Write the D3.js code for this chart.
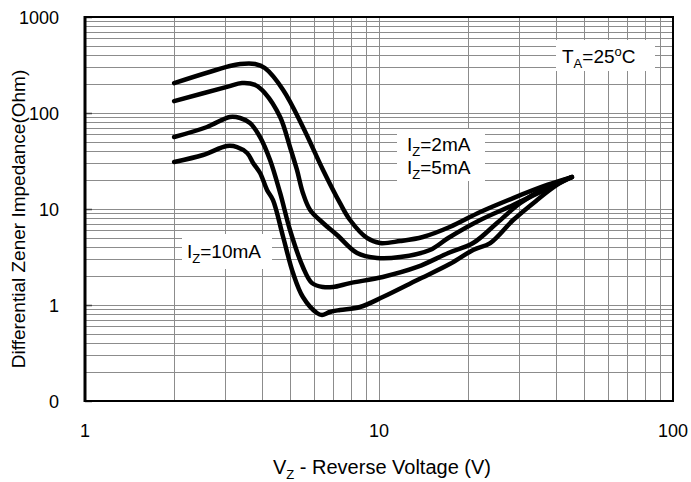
<!DOCTYPE html>
<html>
<head>
<meta charset="utf-8">
<script src="https://cdn.jsdelivr.net/npm/d3@7"></script>
<style>
  body { margin: 0; background: #fff; }
  text { font-family: "Liberation Sans", Arial, sans-serif; fill: #000; }
</style>
</head>
<body>
<script>
// axis ticks
var xTicks = [1, 10, 100];
var yTicks = [0.1, 1, 10, 100, 1000];
var yTickLabels = ["0", "1", "10", "100", "1000"];

// curves: voltage (V) and impedance (Ohm)
var v_2mA = [2.01, 3.11, 3.37, 3.79, 4.09, 4.72, 5.51, 6.45, 7.37, 7.97, 9.10, 10.08, 11.8, 14.1, 17.4, 22.1, 28.6, 37.3, 45.3];
var z_2mA = [205, 309, 324, 324, 294, 174, 71.5, 25.5, 11.5, 7.68, 4.99, 4.42, 4.64, 5.11, 6.49, 9.31, 13.0, 17.8, 21.5];

var v_5mA = [2.01, 3.04, 3.42, 3.79, 4.09, 4.61, 4.98, 5.26, 5.51, 5.83, 6.45, 7.20, 8.42, 9.84, 11.8, 14.9, 17.2, 22.1, 28.6, 35.3, 45.3];
var z_5mA = [133, 187, 205, 196, 162, 90.9, 44.2, 25.5, 14.7, 9.77, 7.15, 5.36, 3.48, 3.09, 3.16, 3.74, 4.99, 7.68, 11.0, 15.0, 21.5];

var v_10mA = [2.01, 2.60, 3.11, 3.37, 3.64, 3.94, 4.26, 4.61, 4.98, 5.51, 5.92, 6.45, 6.97, 7.97, 10.3, 13.5, 17.2, 20.9, 25.2, 30.2, 37.3, 45.3];
var z_10mA = [56.2, 71.5, 90.9, 88.7, 78.7, 56.2, 32.4, 14.7, 6.04, 2.49, 1.69, 1.54, 1.54, 1.69, 1.96, 2.49, 3.48, 4.42, 7.15, 11.5, 16.9, 21.5];

var v_20mA = [2.01, 2.52, 3.04, 3.29, 3.56, 3.73, 3.94, 4.16, 4.36, 4.72, 5.10, 5.51, 6.15, 6.40, 6.81, 7.37, 8.62, 10.3, 13.5, 17.4, 20.9, 23.9, 28.6, 34.5, 40.3, 45.3];
var z_20mA = [30.9, 36.5, 45.3, 44.2, 38.3, 30.2, 23.7, 15.8, 12.4, 5.11, 2.15, 1.21, 0.825, 0.787, 0.846, 0.887, 0.953, 1.21, 1.82, 2.67, 3.74, 4.42, 7.68, 12.4, 17.8, 21.5];

var W = 691, H = 482;
// plot area edges
var pL = 85, pR = 673, pT = 17, pB = 401;

var svg = d3.select("body").append("svg")
  .attr("width", W).attr("height", H);

var x = d3.scaleLog().domain([1, 100]).range([pL, pR]);
var y = d3.scaleLog().domain([0.1, 1000]).range([pB, pT]);

// grid lines (every 1..9 in each decade)
var xGrid = [], yGrid = [];
[1, 10].forEach(function(d) { for (var k = 1; k <= 9; k++) xGrid.push(d * k); });
[0.1, 1, 10, 100].forEach(function(d) { for (var k = 1; k <= 9; k++) yGrid.push(d * k); });

svg.append("g").selectAll("line").data(xGrid).enter().append("line")
  .attr("x1", function(d) { return Math.round(x(d)) + 0.5; })
  .attr("x2", function(d) { return Math.round(x(d)) + 0.5; })
  .attr("y1", pT).attr("y2", pB)
  .attr("stroke", "#8c8c8c").attr("stroke-width", 1);

svg.append("g").selectAll("line").data(yGrid).enter().append("line")
  .attr("y1", function(d) { return Math.round(y(d)) + 0.5; })
  .attr("y2", function(d) { return Math.round(y(d)) + 0.5; })
  .attr("x1", pL).attr("x2", pR)
  .attr("stroke", "#8c8c8c").attr("stroke-width", 1);

// small inner ticks on the left axis
svg.append("g").selectAll("line").data(yTicks).enter().append("line")
  .attr("y1", function(d) { return Math.round(y(d)) + 0.5; })
  .attr("y2", function(d) { return Math.round(y(d)) + 0.5; })
  .attr("x1", pL).attr("x2", pL + 7)
  .attr("stroke", "#444").attr("stroke-width", 1.5);

// label boxes (white, hide grid)
svg.append("rect").attr("x", 556).attr("y", 40).attr("width", 99).attr("height", 31).attr("fill", "#fff");
svg.append("rect").attr("x", 397).attr("y", 129).attr("width", 88).attr("height", 52).attr("fill", "#fff");
svg.append("rect").attr("x", 182).attr("y", 234).attr("width", 90).attr("height", 35).attr("fill", "#fff");

// curves
var line = d3.line()
  .x(function(d) { return x(d[0]); })
  .y(function(d) { return y(d[1]); })
  .curve(d3.curveCatmullRom.alpha(0.5));

var series = [[v_2mA, z_2mA], [v_5mA, z_5mA], [v_10mA, z_10mA], [v_20mA, z_20mA]];
series.forEach(function(s) {
  var pts = s[0].map(function(v, i) { return [v, s[1][i]]; });
  svg.append("path").datum(pts)
    .attr("d", line)
    .attr("fill", "none")
    .attr("stroke", "#000")
    .attr("stroke-width", 4.5)
    .attr("stroke-linejoin", "round")
    .attr("stroke-linecap", "round");
});

// plot frame
svg.append("rect")
  .attr("x", pL).attr("y", pT)
  .attr("width", pR - pL).attr("height", pB - pT)
  .attr("fill", "none").attr("stroke", "#000").attr("stroke-width", 2);
svg.append("line").attr("x1", pL).attr("x2", pL).attr("y1", pT - 1).attr("y2", pB + 1)
  .attr("stroke", "#000").attr("stroke-width", 3);

// tick labels
svg.selectAll("text.xt").data(xTicks).enter().append("text")
  .attr("class", "xt")
  .attr("x", function(d) { return x(d); })
  .attr("y", 437)
  .attr("text-anchor", "middle")
  .style("font-size", "18px")
  .text(function(d) { return d; });

svg.selectAll("text.yt").data(yTicks).enter().append("text")
  .attr("class", "yt")
  .attr("x", 59)
  .attr("y", function(d) { return y(d) + 7; })
  .attr("text-anchor", "end")
  .style("font-size", "18px")
  .text(function(d, i) { return yTickLabels[i]; });

// axis titles
var xt = svg.append("text")
  .attr("x", 382).attr("y", 474)
  .attr("text-anchor", "middle")
  .style("font-size", "20px");
xt.append("tspan").text("V");
xt.append("tspan").attr("dy", 5).style("font-size", "13px").text("Z");
xt.append("tspan").attr("dy", -5).text(" - Reverse Voltage (V)");

svg.append("text")
  .attr("transform", "translate(25,219) rotate(-90)")
  .attr("text-anchor", "middle")
  .style("font-size", "19px")
  .text("Differential Zener Impedance(Ohm)");

// annotations
function subLabel(px, py, main, sub, rest) {
  var t = svg.append("text").attr("x", px).attr("y", py).style("font-size", "19px");
  t.append("tspan").text(main);
  t.append("tspan").attr("dy", 5).style("font-size", "13px").text(sub);
  t.append("tspan").attr("dy", -5).text(rest);
  return t;
}
var ta = subLabel(562, 63, "T", "A", "=25");
ta.append("tspan").attr("dy", -7).style("font-size", "13px").text("o");
ta.append("tspan").attr("dy", 7).text("C");

subLabel(407, 151, "I", "Z", "=2mA");
subLabel(407, 174, "I", "Z", "=5mA");
subLabel(187, 258, "I", "Z", "=10mA");
</script>
</body>
</html>
